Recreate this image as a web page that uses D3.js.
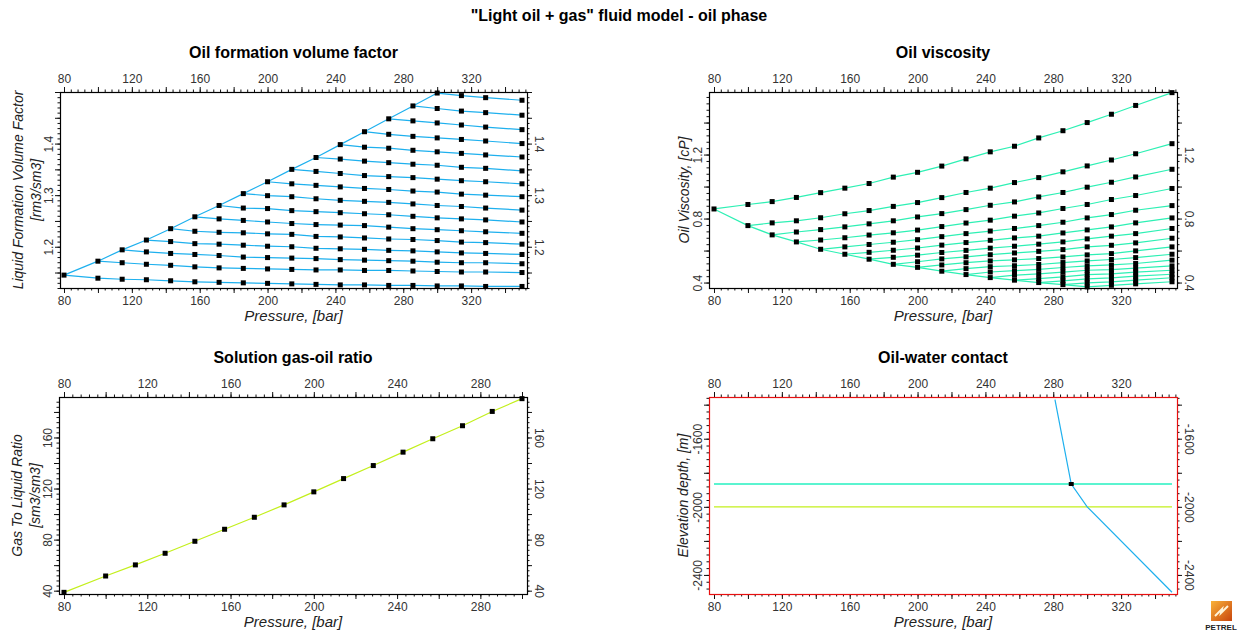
<!DOCTYPE html>
<html>
<head>
<meta charset="utf-8">
<script src="https://cdn.jsdelivr.net/npm/d3@7"></script>
<style>
  body { margin: 0; background: #fff; }
  svg { display: block; font-family: "Liberation Sans", Arial, sans-serif; }
  .tick text { font-size: 12px; fill: #333; }
  .tick line { stroke: #111; }
</style>
</head>
<body>
<div id="chart"></div>
<script>
// pressure columns of the PVT table, bar
const pressures = [80, 100, 114.29, 128.57, 142.86, 157.14, 171.43, 185.71, 200, 214.29,
                   228.57, 242.86, 257.14, 271.43, 285.71, 300, 314.29, 328.57, 350];
const bubblePressures = [80, 100, 114.29, 128.57, 142.86, 157.14, 171.43, 185.71, 200,
                         214.29, 228.57, 242.86, 257.14, 271.43, 285.71, 300];

// oil FVF, one line per bubble point, from the bubble point up to 350 bar
const fvfLines = [
  [1.145, 1.139, 1.137, 1.136, 1.134, 1.132, 1.131, 1.130, 1.129, 1.128, 1.127, 1.126, 1.126, 1.125, 1.125, 1.124, 1.124, 1.123, 1.123],
  [1.172, 1.169, 1.166, 1.164, 1.161, 1.159, 1.158, 1.157, 1.156, 1.155, 1.155, 1.154, 1.154, 1.153, 1.152, 1.151, 1.151, 1.150],
  [1.194, 1.190, 1.187, 1.185, 1.183, 1.180, 1.179, 1.178, 1.177, 1.175, 1.174, 1.173, 1.172, 1.170, 1.169, 1.169, 1.167],
  [1.213, 1.210, 1.206, 1.205, 1.203, 1.201, 1.200, 1.197, 1.196, 1.195, 1.193, 1.192, 1.190, 1.188, 1.187, 1.185],
  [1.235, 1.230, 1.228, 1.227, 1.225, 1.224, 1.220, 1.219, 1.217, 1.215, 1.214, 1.212, 1.209, 1.208, 1.205],
  [1.258, 1.254, 1.251, 1.248, 1.245, 1.243, 1.242, 1.241, 1.238, 1.235, 1.233, 1.231, 1.229, 1.226],
  [1.280, 1.275, 1.274, 1.270, 1.268, 1.266, 1.264, 1.262, 1.259, 1.256, 1.254, 1.252, 1.248],
  [1.303, 1.299, 1.297, 1.293, 1.290, 1.288, 1.286, 1.283, 1.280, 1.278, 1.275, 1.271],
  [1.326, 1.322, 1.319, 1.316, 1.313, 1.311, 1.308, 1.306, 1.302, 1.300, 1.297],
  [1.350, 1.346, 1.342, 1.338, 1.336, 1.334, 1.331, 1.328, 1.326, 1.322],
  [1.373, 1.370, 1.366, 1.363, 1.360, 1.358, 1.354, 1.352, 1.347],
  [1.398, 1.393, 1.391, 1.387, 1.384, 1.381, 1.378, 1.374],
  [1.423, 1.418, 1.414, 1.411, 1.408, 1.405, 1.400],
  [1.448, 1.444, 1.440, 1.436, 1.432, 1.427],
  [1.473, 1.468, 1.463, 1.460, 1.455],
  [1.498, 1.493, 1.489, 1.484]
];

// oil viscosity, cP, same layout
const viscLines = [
  [0.860, 0.888, 0.906, 0.932, 0.962, 0.990, 1.019, 1.059, 1.089, 1.128, 1.173, 1.217, 1.252, 1.304, 1.349, 1.400, 1.452, 1.507, 1.587],
  [0.756, 0.773, 0.786, 0.805, 0.830, 0.850, 0.876, 0.900, 0.931, 0.963, 0.990, 1.025, 1.056, 1.092, 1.129, 1.166, 1.205, 1.268],
  [0.698, 0.716, 0.731, 0.748, 0.767, 0.786, 0.810, 0.831, 0.856, 0.883, 0.904, 0.935, 0.963, 0.996, 1.027, 1.060, 1.108],
  [0.654, 0.666, 0.680, 0.697, 0.711, 0.728, 0.750, 0.772, 0.790, 0.815, 0.835, 0.863, 0.888, 0.919, 0.944, 0.988],
  [0.608, 0.623, 0.638, 0.652, 0.668, 0.687, 0.706, 0.722, 0.738, 0.756, 0.777, 0.804, 0.825, 0.852, 0.881],
  [0.577, 0.589, 0.602, 0.616, 0.634, 0.650, 0.664, 0.679, 0.690, 0.710, 0.729, 0.748, 0.773, 0.804],
  [0.546, 0.558, 0.571, 0.588, 0.601, 0.615, 0.627, 0.640, 0.654, 0.673, 0.690, 0.706, 0.738],
  [0.514, 0.530, 0.548, 0.561, 0.574, 0.585, 0.595, 0.606, 0.623, 0.633, 0.648, 0.677],
  [0.495, 0.510, 0.524, 0.535, 0.542, 0.550, 0.560, 0.573, 0.581, 0.598, 0.623],
  [0.471, 0.487, 0.499, 0.505, 0.513, 0.525, 0.535, 0.544, 0.556, 0.577],
  [0.450, 0.466, 0.474, 0.483, 0.494, 0.504, 0.510, 0.519, 0.540],
  [0.431, 0.446, 0.454, 0.465, 0.477, 0.481, 0.490, 0.504],
  [0.415, 0.425, 0.435, 0.450, 0.454, 0.465, 0.477],
  [0.400, 0.410, 0.423, 0.429, 0.440, 0.452],
  [0.387, 0.398, 0.404, 0.415, 0.430],
  [0.373, 0.383, 0.392, 0.405]
];

// solution GOR at the bubble points, sm3/sm3
const gorValues = [38.7, 51.5, 60.2, 69.3, 78.7, 88.1, 97.5, 107.2, 117.4, 127.8, 138.0, 148.5, 159.0, 169.2, 180.4, 190.4];

// oil-water contact panel
const gasOilContact = -1866;
const oilWaterContact = -2000;
const contactLineRange = [80, 350];
const profilePressures = [281, 290.6, 300, 350];
const profileDepths = [-1370, -1866, -2000, -2502];
const datumPressure = 290.6;
const datumDepth = -1866;

// tick labels
const pressureTickLabels = [80, 120, 160, 200, 240, 280, 320];
const fvfTickLabels = [1.2, 1.3, 1.4];
const viscTickLabels = [0.4, 0.8, 1.2];
const gorTickLabels = [40, 80, 120, 160];
const depthTickLabels = [-2400, -2000, -1600];

const W = 1239, H = 632;
const svg = d3.select('#chart').append('svg')
  .attr('width', W)
  .attr('height', H);

svg.append('text')
  .attr('x', 619).attr('y', 21)
  .attr('text-anchor', 'middle')
  .style('font-size', '16px').style('font-weight', 'bold')
  .text('"Light oil + gas" fluid model - oil phase');

// plain hyphen for negatives, like the original
const intFmt = v => String(Math.round(v));

function steps(lo, hi, step) {
  const out = [];
  const s = Math.ceil(lo / step - 1e-9), e = Math.floor(hi / step + 1e-9);
  for (let i = s; i <= e; i++) out.push(+(i * step).toFixed(6));
  return out;
}

function drawPanel(cfg) {
  const { box, x, y } = cfg;
  const g = svg.append('g');
  const xs = [x.invert(box.l), x.invert(box.r)];
  const ys = [y.invert(box.b), y.invert(box.t)];
  const xLab = v => cfg.xLabels.some(l => Math.abs(l - v) < 1e-6) ? intFmt(v) : '';
  const yLab = v => cfg.yLabels.some(l => Math.abs(l - v) < 1e-6) ? cfg.yFmt(v) : '';

  const xMinor = steps(xs[0], xs[1], cfg.xMinor), xMajor = steps(xs[0], xs[1], cfg.xMajor);
  const yMinor = steps(ys[0], ys[1], cfg.yMinor), yMajor = steps(ys[0], ys[1], cfg.yMajor);

  // bottom + top
  g.append('g').attr('transform', `translate(0,${box.b})`)
    .call(d3.axisBottom(x).tickValues(xMinor).tickSize(2.5).tickFormat(''));
  g.append('g').attr('transform', `translate(0,${box.b})`)
    .call(d3.axisBottom(x).tickValues(xMajor).tickSize(5).tickPadding(3.5).tickFormat(xLab));
  g.append('g').attr('transform', `translate(0,${box.t})`)
    .call(d3.axisTop(x).tickValues(xMinor).tickSize(2.5).tickFormat(''));
  g.append('g').attr('transform', `translate(0,${box.t})`)
    .call(d3.axisTop(x).tickValues(xMajor).tickSize(5).tickPadding(4).tickFormat(xLab));

  // left + right, labels turned on their side
  g.append('g').attr('transform', `translate(${box.l},0)`)
    .call(d3.axisLeft(y).tickValues(yMinor).tickSize(2.5).tickFormat(''));
  g.append('g').attr('transform', `translate(${box.l},0)`)
    .call(d3.axisLeft(y).tickValues(yMajor).tickSize(5).tickFormat(yLab))
    .selectAll('text')
    .attr('x', null).attr('dy', null)
    .attr('text-anchor', 'middle')
    .attr('transform', 'translate(-7,0) rotate(-90)');
  g.append('g').attr('transform', `translate(${box.r},0)`)
    .call(d3.axisRight(y).tickValues(yMinor).tickSize(2.5).tickFormat(''));
  g.append('g').attr('transform', `translate(${box.r},0)`)
    .call(d3.axisRight(y).tickValues(yMajor).tickSize(5).tickFormat(yLab))
    .selectAll('text')
    .attr('x', null).attr('dy', null)
    .attr('text-anchor', 'middle')
    .attr('transform', 'translate(8,0) rotate(90)');

  g.selectAll('.domain').remove();

  g.append('rect')
    .attr('x', box.l + 0.5).attr('y', box.t + 0.5)
    .attr('width', box.r - box.l).attr('height', box.b - box.t)
    .attr('fill', 'none')
    .attr('stroke', cfg.frame || '#000')
    .attr('stroke-width', 1.2);

  const cx = (box.l + box.r) / 2;
  g.append('text')
    .attr('x', cx).attr('y', box.t - 34)
    .attr('text-anchor', 'middle')
    .style('font-size', '16px').style('font-weight', 'bold')
    .text(cfg.title);

  g.append('text')
    .attr('x', cx).attr('y', box.b + 33)
    .attr('text-anchor', 'middle')
    .style('font-size', '15px').style('font-style', 'italic').style('fill', '#222')
    .text('Pressure, [bar]');

  const cy = (box.t + box.b) / 2;
  cfg.yTitle.forEach((t, i) => {
    g.append('text')
      .attr('transform', `translate(${cfg.yTitleX[i]},${cy}) rotate(-90)`)
      .attr('text-anchor', 'middle')
      .style('font-size', '14px').style('font-style', 'italic').style('fill', '#222')
      .text(t);
  });

  return g.append('g');
}

function drawFamily(layer, x, y, lines, color) {
  const line = d3.line().x(d => x(d[0])).y(d => y(d[1]));
  const series = lines.map((vals, k) => vals.map((v, i) => [pressures[k + i], v]));
  const saturated = series.map(s => s[0]);
  series.forEach(s => {
    layer.append('path').datum(s)
      .attr('d', line).attr('fill', 'none')
      .attr('stroke', color).attr('stroke-width', 1.2);
  });
  layer.append('path').datum(saturated)
    .attr('d', line).attr('fill', 'none')
    .attr('stroke', color).attr('stroke-width', 1.2);
  layer.selectAll('rect.pt')
    .data(series.flat())
    .enter().append('rect')
    .attr('class', 'pt')
    .attr('x', d => x(d[0]) - 2.5).attr('y', d => y(d[1]) - 2.5)
    .attr('width', 5).attr('height', 5)
    .attr('fill', '#000');
}

// ---- Oil formation volume factor
const x1 = d3.scaleLinear().domain([80, 350]).range([64, 522]);
const y1 = d3.scaleLinear().domain([1.12, 1.50]).range([288, 92]);
const p1 = drawPanel({
  box: { l: 60, t: 92, r: 527, b: 288 }, x: x1, y: y1,
  xMinor: 4, xMajor: 20, xLabels: pressureTickLabels,
  yMinor: 0.01, yMajor: 0.05, yLabels: fvfTickLabels, yFmt: d3.format('.1f'),
  title: 'Oil formation volume factor',
  yTitle: ['Liquid Formation Volume Factor', '[rm3/sm3]'], yTitleX: [23, 41]
});
drawFamily(p1, x1, y1, fvfLines, '#1eb0ee');

// ---- Oil viscosity
const x2 = d3.scaleLinear().domain([80, 350]).range([714, 1172]);
const y2 = d3.scaleLinear().domain([0.366, 1.591]).range([288, 92]);
const p2 = drawPanel({
  box: { l: 709, t: 92, r: 1177, b: 288 }, x: x2, y: y2,
  xMinor: 4, xMajor: 20, xLabels: pressureTickLabels,
  yMinor: 0.04, yMajor: 0.2, yLabels: viscTickLabels, yFmt: d3.format('.1f'),
  title: 'Oil viscosity',
  yTitle: ['Oil Viscosity, [cP]'], yTitleX: [689]
});
drawFamily(p2, x2, y2, viscLines, '#2ef0b4');

// ---- Solution gas-oil ratio
const x3 = d3.scaleLinear().domain([80, 300]).range([64, 522]);
const y3 = d3.scaleLinear().domain([37.4, 191.7]).range([594, 397]);
const p3 = drawPanel({
  box: { l: 59, t: 397, r: 527, b: 594 }, x: x3, y: y3,
  xMinor: 4, xMajor: 20, xLabels: pressureTickLabels,
  yMinor: 4, yMajor: 20, yLabels: gorTickLabels, yFmt: intFmt,
  title: 'Solution gas-oil ratio',
  yTitle: ['Gas To Liquid Ratio', '[sm3/sm3]'], yTitleX: [22, 40]
});
const gorData = gorValues.map((v, i) => [bubblePressures[i], v]);
p3.append('path').datum(gorData)
  .attr('d', d3.line().x(d => x3(d[0])).y(d => y3(d[1])))
  .attr('fill', 'none').attr('stroke', '#c3ef1c').attr('stroke-width', 1.2);
p3.selectAll('rect.pt').data(gorData).enter().append('rect')
  .attr('class', 'pt')
  .attr('x', d => x3(d[0]) - 2.5).attr('y', d => y3(d[1]) - 2.5)
  .attr('width', 5).attr('height', 5).attr('fill', '#000');

// ---- Oil-water contact
const x4 = d3.scaleLinear().domain([80, 350]).range([714, 1172]);
const y4 = d3.scaleLinear().domain([-2512, -1355]).range([594, 397]);
const p4 = drawPanel({
  box: { l: 709, t: 397, r: 1177, b: 594 }, x: x4, y: y4,
  xMinor: 4, xMajor: 20, xLabels: pressureTickLabels,
  yMinor: 40, yMajor: 200, yLabels: depthTickLabels, yFmt: intFmt,
  title: 'Oil-water contact', frame: '#e81010',
  yTitle: ['Elevation depth, [m]'], yTitleX: [688]
});
[[gasOilContact, '#25f0c0'], [oilWaterContact, '#c3ef1c']].forEach(([depth, color]) => {
  p4.append('line')
    .attr('x1', x4(contactLineRange[0])).attr('x2', x4(contactLineRange[1]))
    .attr('y1', y4(depth)).attr('y2', y4(depth))
    .attr('stroke', color).attr('stroke-width', 1.3);
});
const profile = profilePressures.map((p, i) => [p, profileDepths[i]]);
p4.append('path').datum(profile)
  .attr('d', d3.line().x(d => x4(d[0])).y(d => y4(d[1])))
  .attr('fill', 'none').attr('stroke', '#1eb0ee').attr('stroke-width', 1.2);
p4.append('rect')
  .attr('x', x4(datumPressure) - 2.5).attr('y', y4(datumDepth) - 2)
  .attr('width', 5).attr('height', 4).attr('fill', '#000');

// ---- Petrel badge
const defs = svg.append('defs');
const grad = defs.append('linearGradient').attr('id', 'petrel')
  .attr('x1', 0).attr('y1', 0).attr('x2', 1).attr('y2', 1);
grad.append('stop').attr('offset', 0).attr('stop-color', '#f9b23a');
grad.append('stop').attr('offset', 1).attr('stop-color', '#c8450c');
const logo = svg.append('g').attr('transform', 'translate(1211,601)');
logo.append('rect').attr('width', 21).attr('height', 20).attr('fill', 'url(#petrel)');
logo.append('path')
  .attr('d', 'M4,15 L11,8 L10,12 L17,5')
  .attr('fill', 'none').attr('stroke', '#fff4d8').attr('stroke-width', 2);
svg.append('text')
  .attr('x', 1221).attr('y', 630)
  .attr('text-anchor', 'middle')
  .style('font-size', '8px').style('font-weight', 'bold').style('fill', '#222')
  .text('PETREL');
</script>
</body>
</html>
